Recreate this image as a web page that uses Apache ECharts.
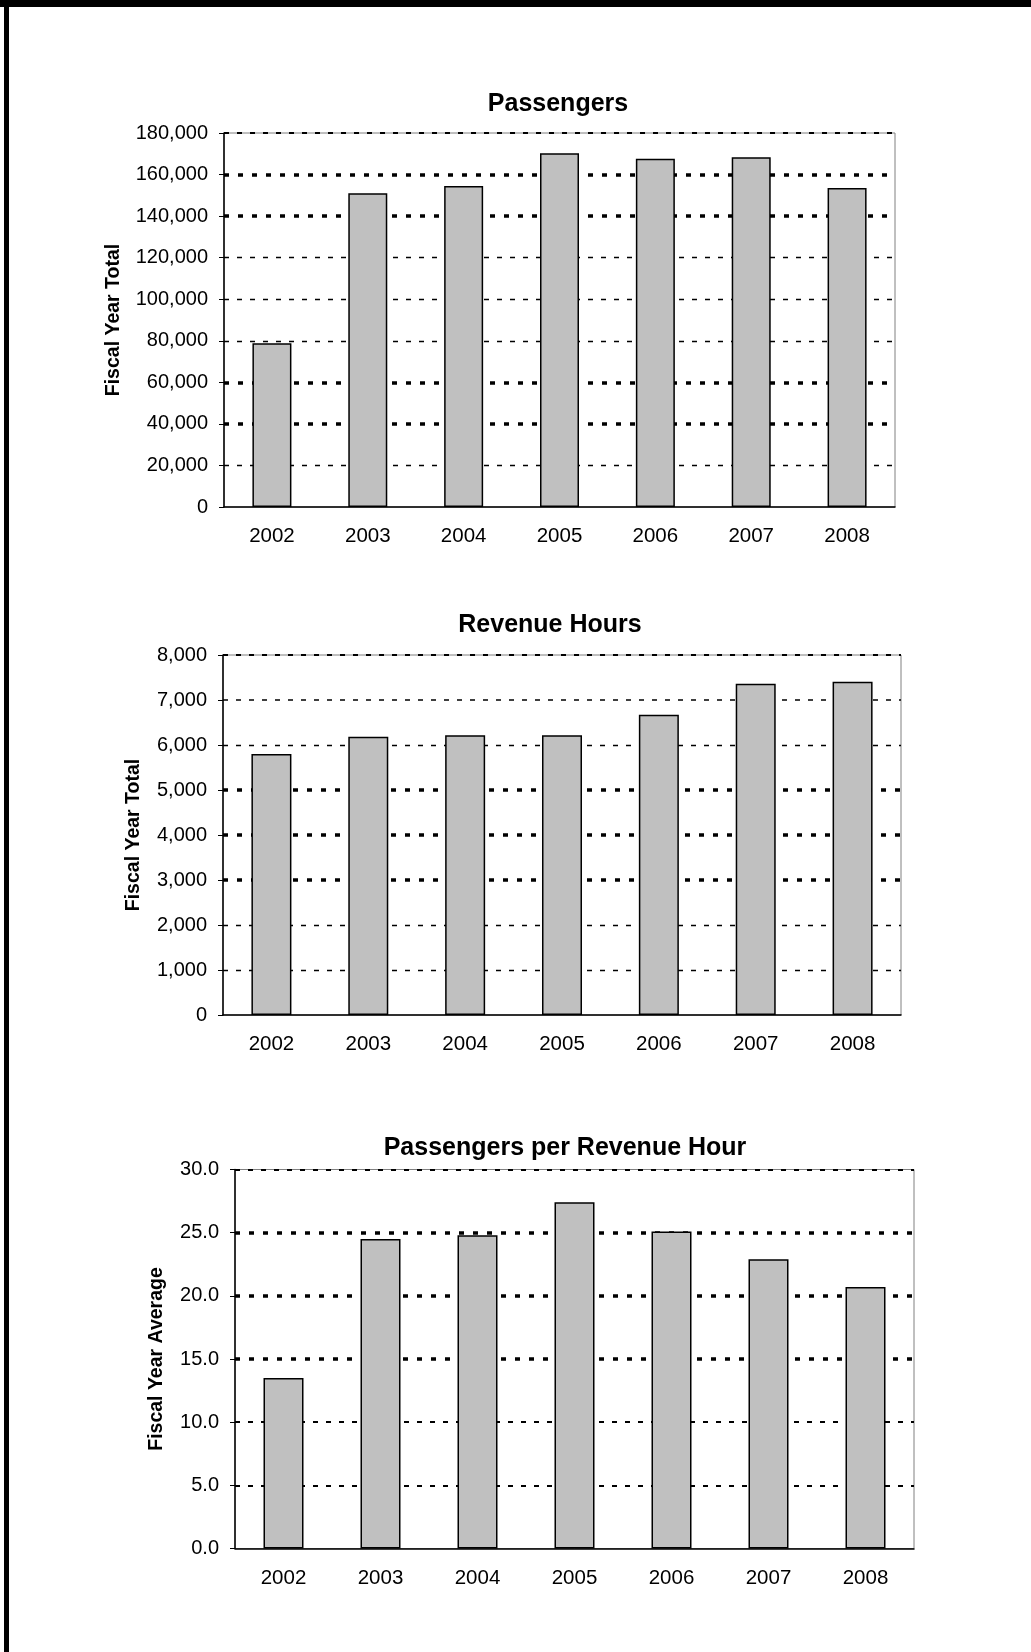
<!DOCTYPE html>
<html>
<head>
<meta charset="utf-8">
<title>Fiscal Year Ridership</title>
<script src="https://cdn.jsdelivr.net/npm/echarts@6/dist/echarts.min.js"></script>
<style>
  html, body { margin: 0; padding: 0; background: #fff; }
  #chart { width: 1031px; height: 1652px; }
</style>
</head>
<body>
<div id="chart"></div>
<script>
// Fiscal years shown on every panel
const years = ['2002', '2003', '2004', '2005', '2006', '2007', '2008'];

// Annual totals / averages
const passengers = [78800, 151000, 154500, 170200, 167600, 168300, 153500];
const revenueHours = [5800, 6185, 6215, 6215, 6675, 7360, 7405];
const passengersPerHour = [13.5, 24.5, 24.8, 27.4, 25.1, 22.9, 20.7];

// Value-axis tick labels
const passengerTicks = ['0', '20,000', '40,000', '60,000', '80,000', '100,000', '120,000', '140,000', '160,000', '180,000'];
const hourTicks = ['0', '1,000', '2,000', '3,000', '4,000', '5,000', '6,000', '7,000', '8,000'];
const rateTicks = ['0.0', '5.0', '10.0', '15.0', '20.0', '25.0', '30.0'];

// Line weight of each dotted gridline, from the first tick above zero upward
const passengerRuleWeights = [1.3, 3.5, 3.5, 1.3, 1.3, 1.3, 3.5, 3.5, 2];
const hourRuleWeights = [1.3, 1.3, 3.5, 3.5, 3.5, 1.3, 1.6, 2];
const rateRuleWeights = [2.2, 2.2, 3.5, 3.5, 3.5, 2.2];

const FONT = '"Liberation Sans", Arial, Helvetica, sans-serif';

const panels = [
  {
    title: 'Passengers', titleX: 558, titleY: 92,
    grid: { left: 224, top: 133, width: 671, height: 374 },
    values: passengers, ticks: passengerTicks, weights: passengerRuleWeights,
    step: 20000, axisName: 'Fiscal Year Total', nameGap: 100, barWidth: 39
  },
  {
    title: 'Revenue Hours', titleX: 550, titleY: 613,
    grid: { left: 223, top: 655, width: 678, height: 360 },
    values: revenueHours, ticks: hourTicks, weights: hourRuleWeights,
    step: 1000, axisName: 'Fiscal Year Total', nameGap: 79, barWidth: 40
  },
  {
    title: 'Passengers per Revenue Hour', titleX: 565, titleY: 1135.5,
    grid: { left: 235, top: 1169.5, width: 679, height: 379 },
    values: passengersPerHour, ticks: rateTicks, weights: rateRuleWeights,
    step: 5, axisName: 'Fiscal Year Average', nameGap: 68, barWidth: 40
  }
];

const option = {
  animation: false,
  backgroundColor: '#fff',
  textStyle: { fontFamily: FONT },
  title: [],
  grid: [],
  xAxis: [],
  yAxis: [],
  series: [],
  graphic: [
    // page frame: heavy rule along the top and down the left side
    { type: 'rect', shape: { x: 0, y: 0, width: 1031, height: 7 }, style: { fill: '#000' }, silent: true },
    { type: 'rect', shape: { x: 4, y: 0, width: 5, height: 1652 }, style: { fill: '#000' }, silent: true }
  ]
};

panels.forEach((p, i) => {
  const maxVal = p.step * (p.ticks.length - 1);

  option.title.push({
    text: p.title,
    left: p.titleX,
    top: p.titleY,
    textAlign: 'center',
    padding: 0,
    textStyle: { fontFamily: FONT, fontSize: 25, fontWeight: 'bold', color: '#000' }
  });

  option.grid.push(Object.assign({
    show: true,
    borderColor: '#808080',
    borderWidth: 1,
    backgroundColor: 'transparent'
  }, p.grid));

  option.xAxis.push({
    type: 'category',
    gridIndex: i,
    data: years,
    axisLine: { show: true, lineStyle: { color: '#000', width: 1.5 } },
    axisTick: { show: false },
    axisLabel: { margin: 19, color: '#000', fontSize: 20.5, fontFamily: FONT },
    splitLine: { show: false }
  });

  option.yAxis.push({
    type: 'value',
    gridIndex: i,
    min: 0,
    max: maxVal,
    interval: p.step,
    name: p.axisName,
    nameLocation: 'middle',
    nameRotate: 90,
    nameGap: p.nameGap,
    nameTextStyle: { fontFamily: FONT, fontSize: 19.5, fontWeight: 'bold', color: '#000' },
    axisLine: { show: true, lineStyle: { color: '#000', width: 1.5 } },
    axisTick: { show: true, length: 5, lineStyle: { color: '#000', width: 1 } },
    axisLabel: {
      margin: 16,
      color: '#000',
      fontSize: 20,
      fontFamily: FONT,
      formatter: (v, idx) => p.ticks[idx]
    },
    splitLine: { show: false }
  });

  // dotted gridlines, drawn underneath the bars
  const rules = p.weights.map((w, k) => ({
    yAxis: p.step * (k + 1),
    lineStyle: { color: '#000', width: w, type: w >= 3 ? [5, 9] : [5, 8] }
  }));

  option.series.push({
    type: 'line',
    xAxisIndex: i,
    yAxisIndex: i,
    data: years.map(() => null),
    z: 1,
    silent: true,
    showSymbol: false,
    markLine: {
      silent: true,
      symbol: 'none',
      z: 1,
      label: { show: false },
      emphasis: { disabled: true },
      data: rules
    }
  });

  option.series.push({
    type: 'bar',
    xAxisIndex: i,
    yAxisIndex: i,
    data: p.values,
    barWidth: p.barWidth,
    z: 10,
    itemStyle: { color: '#c0c0c0', borderColor: '#000', borderWidth: 1.5 },
    emphasis: { disabled: true }
  });
});

const chart = echarts.init(document.getElementById('chart'), null, { renderer: 'canvas' });
chart.setOption(option);
</script>
</body>
</html>
